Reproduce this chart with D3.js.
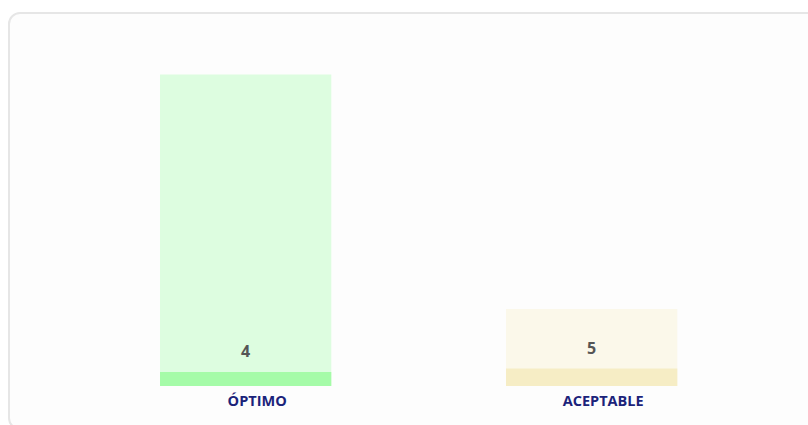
<!DOCTYPE html>
<html>
<head>
<meta charset="utf-8">
<script src="https://cdn.jsdelivr.net/npm/d3@7"></script>
<style>
  html, body { margin: 0; padding: 0; background: #fff; }
  #card {
    position: absolute; left: 8px; top: 12px; width: 830px; height: 418px;
    border: 2px solid #e6e6e6; border-radius: 12px; background: #fdfdfd;
    box-sizing: border-box;
  }
  svg { position: absolute; left: 0; top: 0; }
</style>
</head>
<body>
<div id="card"></div>
<svg id="chart" width="808" height="425"></svg>
<script>
// chart data
var categories = ["ÓPTIMO", "ACEPTABLE"];
var counts = [4, 5];          // value shown on each bar (darker strip)
var ranges = [89, 22];        // light background bar height
var fills = ["#ddfde0", "#fbf8ea"];
var strips = ["#a5fba8", "#f6edc5"];

var svg = d3.select("#chart");

var x = d3.scaleBand()
    .domain(categories)
    .range([73.5, 763.8])
    .paddingInner(0.505)
    .paddingOuter(0.25);

var y = d3.scaleLinear()
    .domain([0, 100])
    .range([386, 36]);

var data = categories.map(function(c, i) {
    return { cat: c, count: counts[i], range: ranges[i], fill: fills[i], strip: strips[i] };
});

var g = svg.append("g");

// background bars
g.selectAll("rect.bg")
    .data(data)
    .enter()
    .append("rect")
    .attr("class", "bg")
    .attr("x", function(d) { return x(d.cat); })
    .attr("width", x.bandwidth())
    .attr("y", function(d) { return y(d.range); })
    .attr("height", function(d) { return y(0) - y(d.range); })
    .style("fill", function(d) { return d.fill; });

// value strips
g.selectAll("rect.val")
    .data(data)
    .enter()
    .append("rect")
    .attr("class", "val")
    .attr("x", function(d) { return x(d.cat); })
    .attr("width", x.bandwidth())
    .attr("y", function(d) { return y(d.count); })
    .attr("height", function(d) { return y(0) - y(d.count); })
    .style("fill", function(d) { return d.strip; });

// value labels
g.selectAll("text.val")
    .data(data)
    .enter()
    .append("text")
    .attr("class", "val")
    .attr("x", function(d) { return x(d.cat) + x.bandwidth() / 2; })
    .attr("y", function(d) { return y(d.count) - 15; })
    .attr("text-anchor", "middle")
    .style("font-family", "'Open Sans', sans-serif")
    .style("font-weight", "bold")
    .style("font-size", "16px")
    .style("fill", "#555")
    .text(function(d) { return d.count; });

// category axis
var axis = svg.append("g")
    .attr("transform", "translate(11.5," + y(0) + ")")
    .call(d3.axisBottom(x).tickSize(0).tickPadding(10));
axis.select(".domain").remove();
axis.selectAll("text")
    .style("font-family", "'Open Sans', sans-serif")
    .style("font-weight", "bold")
    .style("font-size", "14.5px")
    .style("fill", "#1b237a");
</script>
</body>
</html>
